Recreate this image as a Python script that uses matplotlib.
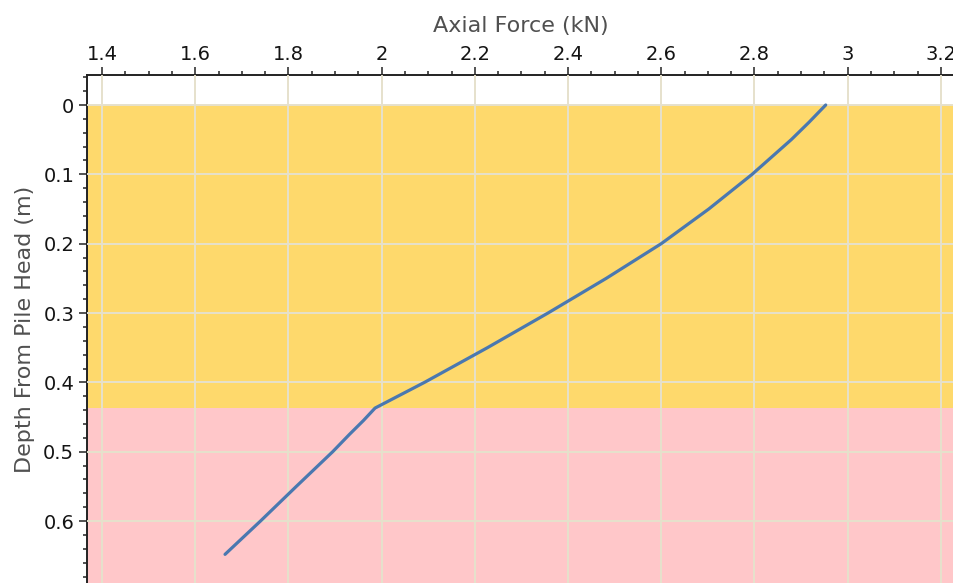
import matplotlib
matplotlib.use("Agg")
import matplotlib.pyplot as plt
from matplotlib.ticker import MultipleLocator, FuncFormatter

# Axial force along the pile (kN) against depth from pile head (m)
depth = [0.0, 0.025, 0.05, 0.1, 0.15, 0.2, 0.25, 0.3, 0.35, 0.4, 0.437,
         0.455, 0.475, 0.5, 0.55, 0.6, 0.648]
force = [2.953, 2.917, 2.879, 2.795, 2.702, 2.600, 2.482, 2.357, 2.227,
         2.092, 1.986, 1.961, 1.931, 1.895, 1.817, 1.740, 1.664]

# Soil layers: (top depth, bottom depth, colour)
layer_top = [0.0, 0.437]
layer_bottom = [0.437, 0.70]
layer_color = ["#FED96C", "#FFC7C9"]

x_ticks = [1.4, 1.6, 1.8, 2.0, 2.2, 2.4, 2.6, 2.8, 3.0, 3.2]
y_ticks = [0.0, 0.1, 0.2, 0.3, 0.4, 0.5, 0.6]

fig = plt.figure(figsize=(9.54, 5.83), dpi=100)
ax = fig.add_axes([0.0909, 0.0, 0.9091, 0.8714])

for top, bot, col in zip(layer_top, layer_bottom, layer_color):
    ax.axhspan(top, bot, color=col, lw=0, zorder=0)

ax.plot(force, depth, color="#4A78B0", lw=2.3, zorder=3,
        solid_capstyle="round", solid_joinstyle="round")

ax.set_xlim(1.3672, 3.2283)
ax.set_ylim(0.6893, -0.0433)

ax.set_xticks(x_ticks)
ax.set_yticks(y_ticks)
ax.xaxis.set_minor_locator(MultipleLocator(0.05))
ax.yaxis.set_minor_locator(MultipleLocator(0.02))

fmt = FuncFormatter(lambda v, p: ("%g" % round(v, 3)))
ax.xaxis.set_major_formatter(fmt)
ax.yaxis.set_major_formatter(fmt)

ax.xaxis.tick_top()
ax.xaxis.set_label_position("top")
ax.tick_params(axis="both", which="major", direction="out", length=6,
               width=1.1, color="#222222", labelsize=14,
               labelcolor="#141414")
ax.tick_params(axis="x", which="major", pad=2)
ax.tick_params(axis="y", which="major", pad=3)
ax.tick_params(axis="both", which="minor", direction="out", length=3,
               width=1.1, color="#222222")

ax.grid(True, which="major", color="#E6E1CC", lw=1.4, zorder=1)
ax.set_axisbelow(False)
for gl in ax.get_xgridlines() + ax.get_ygridlines():
    gl.set_zorder(1)

for side in ("right", "bottom"):
    ax.spines[side].set_visible(False)
for side in ("left", "top"):
    ax.spines[side].set_linewidth(1.4)
    ax.spines[side].set_color("#222222")

ax.set_xlabel("Axial Force (kN)", fontsize=16, color="#505050", labelpad=9)
ax.set_ylabel("Depth From Pile Head (m)", fontsize=16, color="#505050",
              labelpad=6)

fig.savefig("out.png", dpi=100)
